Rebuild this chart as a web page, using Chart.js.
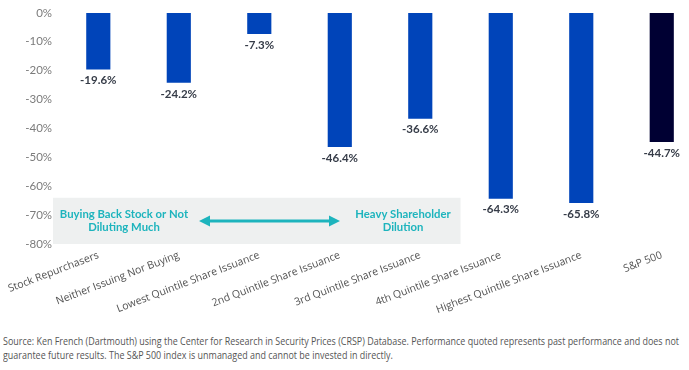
<!DOCTYPE html>
<html>
<head>
<meta charset="utf-8">
<script src="https://cdn.jsdelivr.net/npm/chart.js@4.4.1/dist/chart.umd.min.js"></script>
<style>
  html, body { margin: 0; padding: 0; background: #fff; overflow: hidden; width: 689px; height: 370px; }
  #wrap { position: absolute; left: 0; top: 0; width: 702px; height: 330px; }
  #note { position: absolute; left: 3px; top: 334px; font-family: "Open Sans", sans-serif; font-size: 10.5px;
          line-height: 14px; color: #555; white-space: nowrap; transform-origin: 0 0; }
</style>
</head>
<body>
<div id="wrap"><canvas id="myBarChart" width="702" height="330"></canvas></div>
<div id="note"><span id="l1">Source: Ken French (Dartmouth) using the Center for Research in Security Prices (CRSP) Database. Performance quoted represents past performance and does not</span><br><span>guarantee future results. The S&amp;P 500 index is unmanaged and cannot be invested in directly.</span></div>
<script>
// Data
var categories = ['Stock Repurchasers', 'Neither Issuing Nor Buying', 'Lowest Quintile Share Issuance',
    '2nd Quintile Share Issuance', '3rd Quintile Share Issuance', '4th Quintile Share Issuance',
    'Highest Quintile Share Issuance', 'S&P 500'];
var returns = [-19.6, -24.2, -7.3, -46.4, -36.6, -64.3, -65.8, -44.7];
var barColors = ['#0044b9', '#0044b9', '#0044b9', '#0044b9', '#0044b9', '#0044b9', '#0044b9', '#000033'];
var yTicks = [0, -10, -20, -30, -40, -50, -60, -70, -80];

// value labels under each bar
var valueLabels = {
    id: 'valueLabels',
    afterDatasetsDraw: function (chart) {
        var ctx = chart.ctx;
        var meta = chart.getDatasetMeta(0);
        ctx.save();
        ctx.font = 'bold 11.5px Lato, sans-serif';
        ctx.fillStyle = '#363c48';
        ctx.textAlign = 'center';
        ctx.textBaseline = 'middle';
        meta.data.forEach(function (bar, i) {
            ctx.fillText(returns[i].toFixed(1) + '%', bar.x, bar.y + 11);
        });
        ctx.restore();
    }
};

// grey band with the arrow and captions
var band = {
    id: 'band',
    beforeDatasetsDraw: function (chart) {
        var ctx = chart.ctx, x = chart.scales.x, y = chart.scales.y;
        var left = chart.chartArea.left - 5;
        var right = (x.getPixelForValue(4) + x.getPixelForValue(5)) / 2;
        var top = y.getPixelForValue(-64), bottom = y.getPixelForValue(-80);
        ctx.save();
        ctx.fillStyle = '#eef0f0';
        ctx.fillRect(left, top, right - left, bottom - top);

        var teal = '#1db4bd';
        ctx.fillStyle = teal;
        ctx.font = 'bold 11.3px Lato, sans-serif';
        ctx.textAlign = 'center';
        ctx.textBaseline = 'middle';
        var midY = (top + bottom) / 2;
        ctx.fillText('Buying Back Stock or Not', 124, midY - 7);
        ctx.fillText('Diluting Much', 124, midY + 6);
        ctx.fillText('Heavy Shareholder', 403, midY - 7);
        ctx.fillText('Dilution', 403, midY + 6);

        // double arrow
        var ax1 = 199, ax2 = 340, ay = midY;
        ctx.strokeStyle = teal;
        ctx.lineWidth = 3;
        ctx.beginPath();
        ctx.moveTo(ax1 + 8, ay);
        ctx.lineTo(ax2 - 8, ay);
        ctx.stroke();
        ctx.beginPath();
        ctx.moveTo(ax1, ay); ctx.lineTo(ax1 + 11, ay - 5.5); ctx.lineTo(ax1 + 11, ay + 5.5); ctx.closePath();
        ctx.moveTo(ax2, ay); ctx.lineTo(ax2 - 11, ay - 5.5); ctx.lineTo(ax2 - 11, ay + 5.5); ctx.closePath();
        ctx.fill();
        ctx.restore();
    }
};

var ctx = document.getElementById('myBarChart').getContext('2d');
var myBarChart = new Chart(ctx, {
    type: 'bar',
    data: {
        labels: categories,
        datasets: [{
            data: returns,
            backgroundColor: barColors,
            borderWidth: 0,
            barPercentage: 0.3,
            categoryPercentage: 1
        }]
    },
    plugins: [band, valueLabels],
    options: {
        responsive: false,
        animation: false,
        layout: { padding: { top: 10, left: 0, right: 0, bottom: 0 } },
        plugins: { legend: { display: false }, tooltip: { enabled: false } },
        scales: {
            x: {
                grid: { display: false, drawTicks: false },
                border: { display: false },
                ticks: {
                    color: '#555',
                    font: { family: 'Open Sans', size: 10.5 },
                    maxRotation: 21,
                    minRotation: 21,
                    padding: 5,
                    autoSkip: false
                },
                afterFit: function (s) { s.height = 86; }
            },
            y: {
                min: -80,
                max: 0,
                grid: { display: false, drawTicks: false },
                border: { display: false },
                afterBuildTicks: function (s) { s.ticks = yTicks.map(function (v) { return { value: v }; }); },
                ticks: {
                    color: '#7b7b7b',
                    font: { family: 'Lato', size: 11.5 },
                    padding: 6,
                    callback: function (v) { return v + '%'; }
                },
                afterFit: function (s) { s.width = 57; }
            }
        }
    }
});

// fit footnote width
var note = document.getElementById('note');
var w = document.getElementById('l1').getBoundingClientRect().width;
note.style.transform = 'scaleX(' + (676 / w) + ')';
</script>
</body>
</html>
